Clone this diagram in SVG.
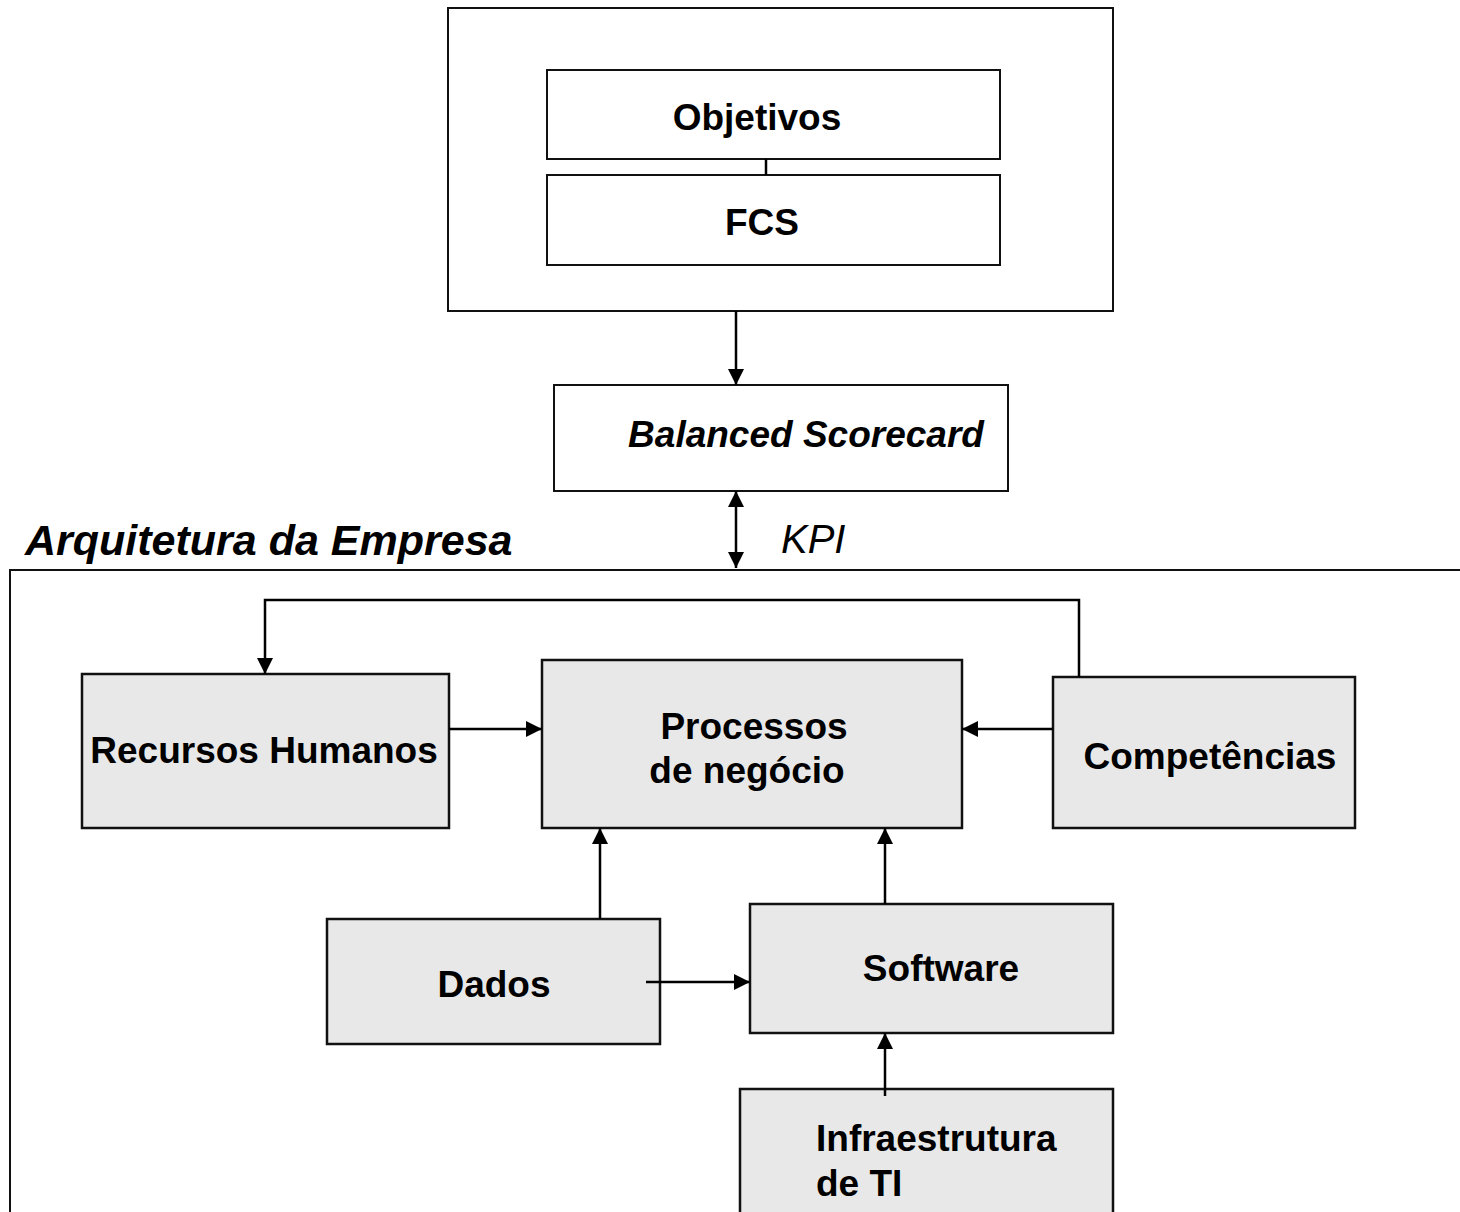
<svg xmlns="http://www.w3.org/2000/svg" width="1460" height="1212" viewBox="0 0 1460 1212">
  <defs>
    <marker id="arrow" markerWidth="16" markerHeight="18" refX="16" refY="9" orient="auto-start-reverse" markerUnits="userSpaceOnUse">
      <path d="M0,1 L16,9 L0,17 Z" fill="#000"/>
    </marker>
  </defs>
  <style>
    .frame { fill: #fff; stroke: #111; stroke-width: 2; }
    .box { fill: #fff; stroke: #111; stroke-width: 2; }
    .gbox { fill: #e8e8e8; stroke: #111; stroke-width: 2.5; }
    .lbl { font-family: "Liberation Sans", Arial, sans-serif; font-weight: bold; font-size: 37px; fill: #000; }
    .ital { font-family: "Liberation Sans", Arial, sans-serif; font-style: italic; fill: #000; }
    .conn { stroke: #000; stroke-width: 2.5; fill: none; }
  </style>
  <rect width="1460" height="1212" fill="#fff"/>

  <!-- strategy frame -->
  <g id="strategy">
    <rect class="frame" x="448" y="8" width="665" height="303"/>
  </g>
  <g id="objetivos">
    <rect class="box" x="547" y="70" width="453" height="89"/>
    <text class="lbl" x="757" y="130" text-anchor="middle">Objetivos</text>
  </g>
  <g id="fcs">
    <rect class="box" x="547" y="175" width="453" height="90"/>
    <text class="lbl" x="762" y="235" text-anchor="middle">FCS</text>
  </g>
  <g id="bsc">
    <rect class="box" x="554" y="385" width="454" height="106"/>
    <text class="ital" x="806" y="447" text-anchor="middle" font-size="37" font-weight="bold">Balanced Scorecard</text>
  </g>

  <!-- enterprise architecture frame -->
  <g id="arquitetura">
    <text class="ital" x="25" y="555" font-size="43" font-weight="bold">Arquitetura da Empresa</text>
    <path class="frame" d="M1470,570 H10 V1222" />
  </g>

  <g id="recursos">
    <rect class="gbox" x="82" y="674" width="367" height="154"/>
    <text class="lbl" x="264" y="763" text-anchor="middle">Recursos Humanos</text>
  </g>
  <g id="processos">
    <rect class="gbox" x="542" y="660" width="420" height="168"/>
    <text class="lbl" x="754" y="739" text-anchor="middle">Processos</text>
    <text class="lbl" x="747" y="783" text-anchor="middle">de negócio</text>
  </g>
  <g id="competencias">
    <rect class="gbox" x="1053" y="677" width="302" height="151"/>
    <text class="lbl" x="1210" y="769" text-anchor="middle">Competências</text>
  </g>
  <g id="dados">
    <rect class="gbox" x="327" y="919" width="333" height="125"/>
    <text class="lbl" x="494" y="997" text-anchor="middle">Dados</text>
  </g>
  <g id="software">
    <rect class="gbox" x="750" y="904" width="363" height="129"/>
    <text class="lbl" x="941" y="981" text-anchor="middle">Software</text>
  </g>
  <g id="infraestrutura">
    <rect class="gbox" x="740" y="1089" width="373" height="140"/>
    <text class="lbl" x="816" y="1151">Infraestrutura</text>
    <text class="lbl" x="816" y="1196">de TI</text>
  </g>

  <g id="connectors">
    <line class="conn" x1="766" y1="159" x2="766" y2="175"/>
    <line class="conn" x1="736" y1="311" x2="736" y2="385" marker-end="url(#arrow)"/>
    <line class="conn" x1="736" y1="491" x2="736" y2="568" marker-start="url(#arrow)" marker-end="url(#arrow)"/>
    <path class="conn" d="M1079,677 V600 H265 V674" marker-end="url(#arrow)"/>
    <line class="conn" x1="449" y1="729" x2="542" y2="729" marker-end="url(#arrow)"/>
    <line class="conn" x1="1053" y1="729" x2="962" y2="729" marker-end="url(#arrow)"/>
    <line class="conn" x1="600" y1="919" x2="600" y2="828" marker-end="url(#arrow)"/>
    <line class="conn" x1="885" y1="904" x2="885" y2="828" marker-end="url(#arrow)"/>
    <line class="conn" x1="646" y1="982" x2="750" y2="982" marker-end="url(#arrow)"/>
    <line class="conn" x1="885" y1="1096" x2="885" y2="1033" marker-end="url(#arrow)"/>
  </g>
  <text class="ital" x="781" y="553" font-size="40">KPI</text>
</svg>
